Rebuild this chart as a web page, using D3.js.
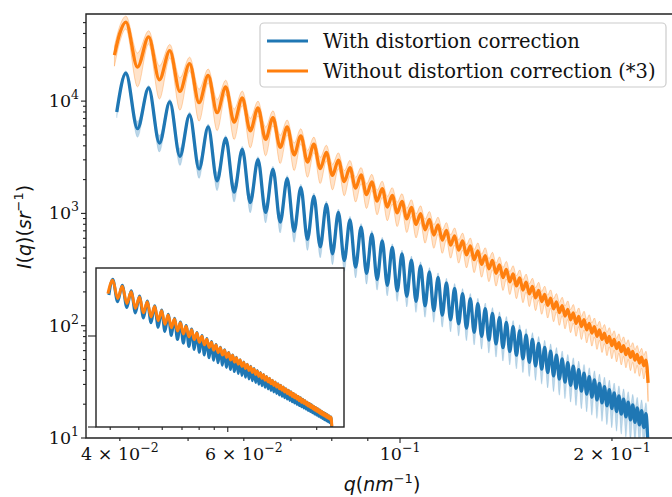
<!DOCTYPE html>
<html>
<head>
<meta charset="utf-8">
<script src="https://cdn.jsdelivr.net/npm/d3@7"></script>
<style>
  body { margin: 0; background: #fff; }
  svg { display: block; }
</style>
</head>
<body>
<script>
'use strict';

// q of every extremum (peak, trough, peak, trough ...)
var qExt = [
  0.0408, 0.04238, 0.04395, 0.04553, 0.0471, 0.04868, 0.05025, 0.05183, 0.0534, 0.05498,
  0.05655, 0.05813, 0.0597, 0.06128, 0.06285, 0.06443, 0.066, 0.06758, 0.06915, 0.07073,
  0.0723, 0.07388, 0.07545, 0.07703, 0.0786, 0.08018, 0.08175, 0.08333, 0.0849, 0.08648,
  0.08805, 0.08963, 0.0912, 0.09278, 0.09435, 0.09593, 0.0975, 0.09908, 0.10065, 0.10223,
  0.1038, 0.10538, 0.10695, 0.10853, 0.1101, 0.11168, 0.11325, 0.11483, 0.1164, 0.11798,
  0.11955, 0.12113, 0.1227, 0.12428, 0.12585, 0.12743, 0.129, 0.13058, 0.13215, 0.13373,
  0.1353, 0.13688, 0.13845, 0.14003, 0.1416, 0.14318, 0.14475, 0.14633, 0.1479, 0.14948,
  0.15105, 0.15263, 0.1542, 0.15578, 0.15735, 0.15893, 0.1605, 0.16208, 0.16365, 0.16523,
  0.1668, 0.16838, 0.16995, 0.17153, 0.1731, 0.17468, 0.17625, 0.17783, 0.1794, 0.18098,
  0.18255, 0.18413, 0.1857, 0.18728, 0.18885, 0.19043, 0.192, 0.19358, 0.19515, 0.19673,
  0.1983, 0.19988, 0.20145, 0.20303, 0.2046, 0.20618, 0.20775, 0.20933, 0.2109, 0.21248,
  0.21405, 0.21563, 0.2172, 0.21878, 0.22035, 0.22193, 0.2235, 0.22508
];

// with distortion correction
var blueExt = [
  17700, 5680, 13100, 4230, 9850, 3220, 7550, 2490, 5890, 1950,
  4650, 1550, 3720, 1250, 3010, 1020, 2470, 836, 2040, 693,
  1700, 587, 1420, 504, 1200, 437, 1020, 380, 876, 332,
  755, 292, 653, 258, 568, 229, 497, 204, 436, 183,
  384, 165, 340, 150, 301, 136, 269, 124, 240, 113,
  215, 104, 193, 95.1, 174, 87.4, 157, 80.5, 142, 74.4,
  129, 68.8, 118, 63.7, 107, 58.9, 98.0, 54.6, 89.7, 50.7,
  82.3, 47.2, 75.6, 43.9, 69.6, 41.0, 64.1, 38.3, 59.2, 35.8,
  54.7, 33.5, 50.7, 31.4, 47.0, 29.5, 43.7, 27.7, 40.6, 26.1,
  37.8, 24.6, 35.2, 23.1, 32.9, 21.8, 30.7, 20.6, 28.7, 19.4,
  26.9, 18.3, 25.2, 17.2, 23.7, 16.3, 22.2, 15.4, 20.9, 14.5,
  19.7, 13.8, 18.5, 13.1, 17.5, 12.4, 16.5, 8.0
];

// without distortion correction, already multiplied by 3
var orangeExt = [
  50500, 20100, 37300, 15500, 28100, 12200, 21600, 9680, 16900, 7890,
  13400, 6510, 10700, 5430, 8690, 4570, 7120, 3870, 5890, 3320,
  4910, 2870, 4130, 2500, 3490, 2180, 2980, 1920, 2550, 1680,
  2200, 1470, 1910, 1290, 1660, 1140, 1450, 1010, 1280, 894,
  1130, 799, 996, 715, 885, 642, 789, 578, 705, 522,
  632, 471, 568, 427, 513, 387, 464, 352, 420, 321,
  382, 293, 348, 268, 317, 246, 290, 226, 266, 208,
  244, 192, 224, 177, 206, 164, 190, 152, 176, 141,
  163, 131, 151, 122, 140, 113, 130, 105, 121, 98.3,
  113, 91.8, 105, 85.9, 98.2, 80.4, 91.8, 75.4, 85.8, 70.7,
  80.4, 66.4, 75.4, 62.4, 70.8, 58.7, 66.5, 55.3, 62.6, 52.2,
  58.9, 49.3, 55.5, 46.5, 52.4, 44.0, 49.4, 31
];

// first points before the first peak
var blueHead   = [[0.0396, 7980]];
var orangeHead = [[0.0393, 25700], [0.0400, 40300]];

// relative error of the shaded bands, read at a few q
var errQ      = [0.04, 0.1, 0.15, 0.22];
var blueErr   = [0.05, 0.08, 0.14, 0.25];
var orangeErr = [0.13, 0.17, 0.18, 0.2];
var orangeFactor = 3;

var seriesNames = ['With distortion correction', 'Without distortion correction (*3)'];
var seriesColors = ['#1f77b4', '#ff7f0e'];

var xTickLabels = [[0.04, '4', '−2'], [0.06, '6', '−2'], [0.1, '', '−1'], [0.2, '2', '−1']];
var xMinor = [0.04, 0.05, 0.06, 0.07, 0.08, 0.09, 0.2];
var xMajor = [0.1];
var yMajor = [10, 100, 1000, 10000];
var insetYTicks = [10, 1000];

{ // INIT
  var width = 672, height = 497;
  var serif = "'DejaVu Serif', serif";
  var sans = "'DejaVu Sans', sans-serif";

  var svg = d3.select('body').append('svg')
      .attr('width', width)
      .attr('height', height);

  var x = d3.scaleLog().domain([0.03581, 0.2474]).range([86, 677]);
  var y = d3.scaleLog().domain([10, 59660]).range([438, 14]);

  var ix = d3.scaleLog().domain([0.03581, 0.2474]).range([96, 344]);
  var iy = d3.scaleLog().domain([10, 31220]).range([427, 268]);

  var errScales = [
    d3.scaleLog().domain(errQ).range(blueErr).clamp(true),
    d3.scaleLog().domain(errQ).range(orangeErr).clamp(true)
  ];

  var defs = svg.append('defs');
  defs.append('clipPath').attr('id', 'clipMain').append('rect')
      .attr('x', 86).attr('y', 14).attr('width', 600).attr('height', 424);
  defs.append('clipPath').attr('id', 'clipInset').append('rect')
      .attr('x', 96).attr('y', 268).attr('width', 248).attr('height', 159);

  function buildSeries(head, ext, scale) {
    var pts = head.map(function(d) { return {q: d[0], v: d[1] / scale}; });
    qExt.forEach(function(q, i) {
      pts.push({q: q, v: ext[i] / scale});
    });
    // error is taken relative to the local envelope (neighbouring peak)
    pts.forEach(function(d, i) {
      var a = pts[i - 1] ? pts[i - 1].v : d.v;
      var b = pts[i + 1] ? pts[i + 1].v : d.v;
      d.env = Math.max(a, b, d.v);
    });
    return pts;
  }

  var series = [
    buildSeries(blueHead, blueExt, 1),
    buildSeries(orangeHead, orangeExt, 1)
  ];
  var insetSeries = [
    buildSeries(blueHead, blueExt, 1),
    buildSeries(orangeHead, orangeExt, orangeFactor)
  ];

  function drawSeries(g, data, sx, sy, lw, withBand) {
    data.forEach(function(pts, i) {
      if (withBand) {
        var err = errScales[i];
        var area = d3.area()
            .curve(d3.curveMonotoneX)
            .x(function(d) { return sx(d.q); })
            .y0(function(d) { return sy(Math.max(d.v - err(d.q) * d.env, d.v * 0.3)); })
            .y1(function(d) { return sy(d.v + err(d.q) * d.env); });
        g.append('path')
            .attr('d', area(pts))
            .attr('fill', seriesColors[i])
            .attr('fill-opacity', i === 0 ? 0.3 : 0.22)
            .attr('stroke', seriesColors[i])
            .attr('stroke-opacity', i === 0 ? 0.15 : 0.35)
            .attr('stroke-width', 0.9);
      }
      var line = d3.line()
          .curve(d3.curveMonotoneX)
          .x(function(d) { return sx(d.q); })
          .y(function(d) { return sy(d.v); });
      g.append('path')
          .attr('d', line(pts))
          .attr('fill', 'none')
          .attr('stroke', seriesColors[i])
          .attr('stroke-width', lw)
          .attr('stroke-linejoin', 'round');
    });
  }

  // main plot
  var plot = svg.append('g').attr('clip-path', 'url(#clipMain)');
  drawSeries(plot, series, x, y, 3.3, true);

  // y ticks
  var yMinor = [];
  [10, 100, 1000, 10000].forEach(function(dec) {
    for (var k = 2; k <= 9; k++) {
      if (dec * k <= y.domain()[1]) yMinor.push(dec * k);
    }
  });
  var axes = svg.append('g').attr('stroke', '#222').attr('stroke-width', 1.1);
  axes.selectAll('.ymin').data(yMinor).enter().append('line')
      .attr('x1', 83).attr('x2', 86)
      .attr('y1', function(d) { return y(d); })
      .attr('y2', function(d) { return y(d); });
  axes.selectAll('.ymaj').data(yMajor).enter().append('line')
      .attr('x1', 81).attr('x2', 86)
      .attr('y1', function(d) { return y(d); })
      .attr('y2', function(d) { return y(d); });
  axes.selectAll('.xmin').data(xMinor).enter().append('line')
      .attr('y1', 438).attr('y2', 441)
      .attr('x1', function(d) { return x(d); })
      .attr('x2', function(d) { return x(d); });
  axes.selectAll('.xmaj').data(xMajor).enter().append('line')
      .attr('y1', 438).attr('y2', 443)
      .attr('x1', function(d) { return x(d); })
      .attr('x2', function(d) { return x(d); });

  // spines
  svg.append('path')
      .attr('d', 'M672,14H86V438H672')
      .attr('fill', 'none')
      .attr('stroke', '#222')
      .attr('stroke-width', 1.4);

  // y tick labels
  yMajor.forEach(function(v) {
    var t = svg.append('text')
        .attr('x', 79)
        .attr('y', y(v) + 6)
        .attr('text-anchor', 'end')
        .attr('font-family', serif)
        .attr('font-size', 17.5)
        .attr('fill', '#111');
    t.append('tspan').text('10');
    t.append('tspan')
        .attr('dy', -8)
        .attr('font-size', 12.5)
        .text(String(Math.round(Math.log10(v))));
  });

  // x tick labels
  xTickLabels.forEach(function(d) {
    var t = svg.append('text')
        .attr('x', x(d[0]))
        .attr('y', 460)
        .attr('text-anchor', 'middle')
        .attr('font-family', serif)
        .attr('font-size', 17.5)
        .attr('fill', '#111');
    t.append('tspan').text(d[1] ? d[1] + ' × 10' : '10');
    t.append('tspan')
        .attr('dy', -8)
        .attr('font-size', 12.5)
        .text(d[2]);
  });

  // axis labels
  var xl = svg.append('text')
      .attr('x', 382)
      .attr('y', 491)
      .attr('text-anchor', 'middle')
      .attr('font-family', sans)
      .attr('font-size', 19)
      .attr('fill', '#111');
  xl.append('tspan').attr('font-style', 'italic').text('q');
  xl.append('tspan').text('(');
  xl.append('tspan').attr('font-style', 'italic').text('nm');
  xl.append('tspan').attr('dy', -8).attr('font-size', 13).text('−1');
  xl.append('tspan').attr('dy', 8).text(')');

  var yl = svg.append('text')
      .attr('transform', 'translate(31,227) rotate(-90)')
      .attr('text-anchor', 'middle')
      .attr('font-family', sans)
      .attr('font-size', 19)
      .attr('fill', '#111');
  yl.append('tspan').attr('font-style', 'italic').text('I');
  yl.append('tspan').text('(');
  yl.append('tspan').attr('font-style', 'italic').text('q');
  yl.append('tspan').text(')(');
  yl.append('tspan').attr('font-style', 'italic').text('sr');
  yl.append('tspan').attr('dy', -8).attr('font-size', 13).text('−1');
  yl.append('tspan').attr('dy', 8).text(')');

  // legend
  var legend = svg.append('g');
  legend.append('rect')
      .attr('x', 260).attr('y', 23)
      .attr('width', 406).attr('height', 64)
      .attr('rx', 4)
      .attr('fill', '#fff')
      .attr('fill-opacity', 0.8)
      .attr('stroke', '#cccccc')
      .attr('stroke-width', 1.2);
  seriesNames.forEach(function(name, i) {
    var ly = 41 + i * 30;
    legend.append('line')
        .attr('x1', 267).attr('x2', 308)
        .attr('y1', ly).attr('y2', ly)
        .attr('stroke', seriesColors[i])
        .attr('stroke-width', 3);
    legend.append('text')
        .attr('x', 323)
        .attr('y', ly + 7)
        .attr('font-family', serif)
        .attr('font-size', 19.5)
        .attr('fill', '#111')
        .text(name);
  });

  // inset
  var inset = svg.append('g');
  inset.append('rect')
      .attr('x', 96).attr('y', 268)
      .attr('width', 248).attr('height', 159)
      .attr('fill', '#fff');
  var insetPlot = inset.append('g').attr('clip-path', 'url(#clipInset)');
  drawSeries(insetPlot, insetSeries, ix, iy, 3, false);
  inset.append('rect')
      .attr('x', 96).attr('y', 268)
      .attr('width', 248).attr('height', 159)
      .attr('fill', 'none')
      .attr('stroke', '#222')
      .attr('stroke-width', 1.4);
  var iticks = inset.append('g').attr('stroke', '#222').attr('stroke-width', 1.1);
  iticks.selectAll('.ixmin').data(xMinor).enter().append('line')
      .attr('y1', 427).attr('y2', 430)
      .attr('x1', function(d) { return ix(d); })
      .attr('x2', function(d) { return ix(d); });
  iticks.selectAll('.ixmaj').data(xMajor).enter().append('line')
      .attr('y1', 427).attr('y2', 432)
      .attr('x1', function(d) { return ix(d); })
      .attr('x2', function(d) { return ix(d); });
  iticks.selectAll('.iy').data(insetYTicks).enter().append('line')
      .attr('x1', 88).attr('x2', 96)
      .attr('y1', function(d) { return iy(d); })
      .attr('y2', function(d) { return iy(d); });
}
</script>
</body>
</html>
